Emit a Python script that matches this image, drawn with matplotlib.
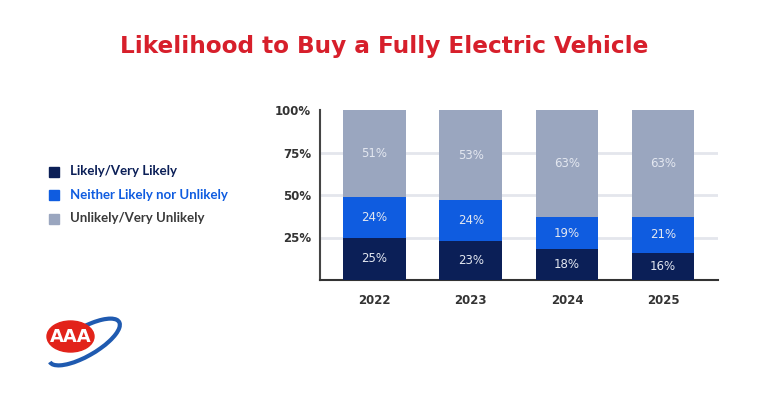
import matplotlib.pyplot as plt
from matplotlib.patches import Ellipse, Arc

years = ["2022", "2023", "2024", "2025"]
likely = [25, 23, 18, 16]
neither = [24, 24, 19, 21]
unlikely = [51, 53, 63, 63]
series_names = ["Likely/Very Likely", "Neither Likely nor Unlikely", "Unlikely/Very Unlikely"]
y_ticks = [25, 50, 75, 100]

colors = ["#0b1f57", "#0f5ce0", "#9aa6bf"]
legend_text_colors = ["#0b1f57", "#0f5ce0", "#3a3a3a"]
label_color = "#e3e7f0"

plt.rcParams['font.family'] = ['DejaVu Sans']

fig = plt.figure(figsize=(7.68, 3.93), dpi=100)
ax = fig.add_axes([320 / 768, 1 - 280 / 393, 398 / 768, 170 / 393])

x = list(range(len(years)))
width = 0.65
bottom = [0] * len(years)
for vals, col in zip([likely, neither, unlikely], colors):
    bars = ax.bar(x, vals, width, bottom=bottom, color=col, zorder=3)
    for b, v, b0 in zip(bars, vals, bottom):
        ax.text(b.get_x() + b.get_width() / 2, b0 + v / 2, f"{v}%", family="DejaVu Sans",
                ha="center", va="center", color=label_color, fontsize=8.5, zorder=4)
    bottom = [a + b for a, b in zip(bottom, vals)]

ax.set_xlim(-0.567, 3.57)
ax.set_ylim(0, 100)
ax.set_yticks(y_ticks)
ax.set_yticklabels([f"{t}%" for t in y_ticks], fontsize=8.5, fontweight="bold",
                   color="#333333", family="DejaVu Sans")
ax.set_xticks(x)
ax.set_xticklabels(years, fontsize=8.5, fontweight="bold", color="#333333", family="DejaVu Sans")
ax.tick_params(length=0)
ax.tick_params(axis="y", pad=6.5)
ax.tick_params(axis="x", pad=10)
for t in [25, 50, 75]:
    ax.axhline(t, color="#e4e6ec", lw=2, zorder=1)
for s in ["top", "right"]:
    ax.spines[s].set_visible(False)
ax.spines["left"].set_color("#444444")
ax.spines["left"].set_linewidth(1.5)
ax.spines["bottom"].set_color("#333333")
ax.spines["bottom"].set_linewidth(1.5)

fig.text(0.5, 1 - 47 / 393, "Likelihood to Buy a Fully Electric Vehicle", ha="center", va="center",
         color="#d71f2b", fontsize=16.7, fontweight="bold", family="DejaVu Sans")

# legend
leg_y = [171.5, 194.5, 218.5]
for name, col, tcol, yy in zip(series_names, colors, legend_text_colors, leg_y):
    fig.patches.append(plt.Rectangle((49 / 768, 1 - (yy + 5) / 393), 10 / 768, 10 / 393,
                                     transform=fig.transFigure, color=col))
    fig.text(70 / 768, 1 - yy / 393, name, ha="left", va="center", color=tcol,
             fontsize=9.5, fontweight="bold", family="Lato")

# AAA logo
lax = fig.add_axes([20 / 768, 1 - 390 / 393, 140 / 768, 90 / 393])
lax.set_xlim(20, 160)
lax.set_ylim(390, 300)
lax.axis("off")
lax.add_patch(Arc((84.5, 342), 80, 28, angle=-30, theta1=240, theta2=180, color="#1f5ab0", lw=3))
lax.add_patch(Ellipse((70.5, 336.5), 47, 31, color="#e2231a"))
lax.text(70.5, 337.5, "AAA", ha="center", va="center", color="white", fontsize=13,
         fontweight="bold", family="DejaVu Sans")

fig.savefig("out.png", dpi=100)
